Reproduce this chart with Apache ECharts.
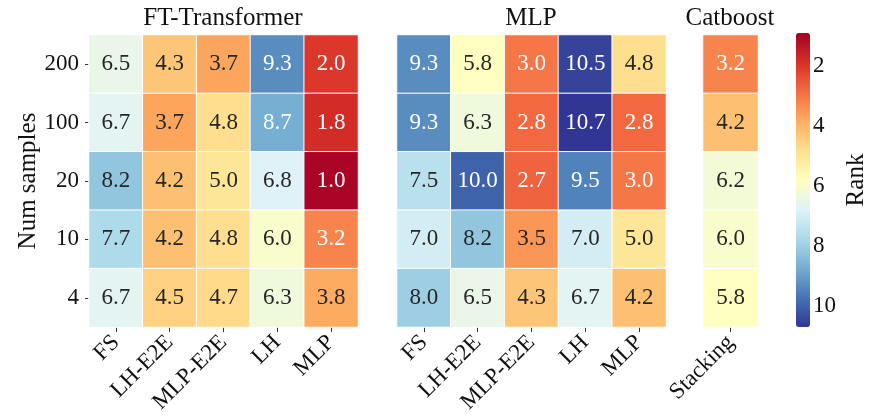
<!DOCTYPE html>
<html>
<head>
<meta charset="utf-8">
<script src="https://cdn.jsdelivr.net/npm/echarts@6/dist/echarts.min.js"></script>
<style>
  html, body { margin: 0; padding: 0; background: #fff; }
  #chart { width: 870px; height: 417px; }
</style>
</head>
<body>
<div id="chart"></div>
<script>
// rows, top to bottom
const sampleSizes = ['200', '100', '20', '10', '4'];
const methods = ['FS', 'LH-E2E', 'MLP-E2E', 'LH', 'MLP'];
const catboostMethods = ['Stacking'];

// mean rank per row (num samples) and column (method)
const ftTransformerRanks = [
    [6.5, 4.3, 3.7, 9.3, 2.0],
    [6.7, 3.7, 4.8, 8.7, 1.8],
    [8.2, 4.2, 5.0, 6.8, 1.0],
    [7.7, 4.2, 4.8, 6.0, 3.2],
    [6.7, 4.5, 4.7, 6.3, 3.8]
];
const mlpRanks = [
    [9.3, 5.8, 3.0, 10.5, 4.8],
    [9.3, 6.3, 2.8, 10.7, 2.8],
    [7.5, 10.0, 2.7, 9.5, 3.0],
    [7.0, 8.2, 3.5, 7.0, 5.0],
    [8.0, 6.5, 4.3, 6.7, 4.2]
];
const catboostRanks = [[3.2], [4.2], [6.2], [6.0], [5.8]];

const colorbarTicks = [2, 4, 6, 8, 10];
const rankMin = 0.9;
const rankMax = 10.7;

// RdYlBu
const rdylbu = ['#a50026', '#d73027', '#f46d43', '#fdae61', '#fee090', '#ffffbf',
    '#e0f3f8', '#abd9e9', '#74add1', '#4575b4', '#313695'];

const FONT = 'Liberation Serif';
const TXT = '#111';

function toCells(matrix) {
    let res = [];
    matrix.forEach(function(row, yi) {
        row.forEach(function(v, xi) {
            // light text on the dark ends of the colormap
            let light = v <= 3.3 || v >= 8.5;
            res.push({
                value: [xi, yi, v],
                label: { color: light ? '#fff' : '#262626' }
            });
        });
    });
    return res;
}

let myChart = echarts.init(document.getElementById('chart'));

const gridTop = 35, gridH = 292;
const grids = [
    { left: 89, top: gridTop, width: 269, height: gridH },
    { left: 397, top: gridTop, width: 269, height: gridH },
    { left: 703, top: gridTop, width: 55, height: gridH },
    { left: 796, top: 33, width: 14, height: 294 } // colorbar axis
];

function catX(idx, cats) {
    return {
        type: 'category', gridIndex: idx, data: cats, position: 'bottom',
        axisLine: { show: false },
        axisTick: { show: true, alignWithLabel: true, length: 5, lineStyle: { color: '#333' } },
        axisLabel: { rotate: 45, margin: 12, fontFamily: FONT, fontSize: 23, color: TXT, interval: 0 },
        splitLine: { show: false }
    };
}
function catY(idx, showLabels) {
    return {
        type: 'category', gridIndex: idx, data: sampleSizes, inverse: true,
        axisLine: { show: false },
        axisTick: { show: showLabels, alignWithLabel: true, length: 4, lineStyle: { color: '#333' } },
        axisLabel: { show: showLabels, margin: 10, fontFamily: FONT, fontSize: 23, color: TXT },
        name: showLabels ? 'Num samples' : '',
        nameLocation: 'middle', nameRotate: 90, nameGap: 47,
        nameTextStyle: { fontFamily: FONT, fontSize: 25, color: TXT }
    };
}

function heatSeries(idx, matrix) {
    return {
        type: 'heatmap', xAxisIndex: idx, yAxisIndex: idx,
        data: toCells(matrix),
        itemStyle: { borderColor: '#fff', borderWidth: 1 },
        label: {
            show: true, fontFamily: FONT, fontSize: 23,
            formatter: function(p) { return p.value[2].toFixed(1); }
        },
        emphasis: { disabled: true }
    };
}

let option = {
    backgroundColor: '#fff',
    animation: false,
    title: [
        { text: 'FT-Transformer', left: 223, top: 6, textAlign: 'center', padding: 0,
          textStyle: { fontFamily: FONT, fontSize: 25, fontWeight: 'normal', color: TXT } },
        { text: 'MLP', left: 531, top: 6, textAlign: 'center', padding: 0,
          textStyle: { fontFamily: FONT, fontSize: 25, fontWeight: 'normal', color: TXT } },
        { text: 'Catboost', left: 730, top: 6, textAlign: 'center', padding: 0,
          textStyle: { fontFamily: FONT, fontSize: 25, fontWeight: 'normal', color: TXT } }
    ],
    grid: grids,
    xAxis: [
        catX(0, methods),
        catX(1, methods),
        catX(2, catboostMethods),
        { type: 'value', gridIndex: 3, show: false, min: 0, max: 1 }
    ],
    yAxis: [
        catY(0, true),
        catY(1, false),
        catY(2, false),
        {
            type: 'value', gridIndex: 3, position: 'right', inverse: true,
            min: rankMin, max: rankMax,
            axisLine: { show: false },
            splitLine: { show: false },
            axisTick: { show: true, length: 4, customValues: colorbarTicks, lineStyle: { color: '#333' } },
            axisLabel: { margin: 9, customValues: colorbarTicks, fontFamily: FONT, fontSize: 23, color: TXT },
            name: 'Rank', nameLocation: 'middle', nameRotate: 90, nameGap: 40,
            nameTextStyle: { fontFamily: FONT, fontSize: 25, color: TXT }
        }
    ],
    visualMap: {
        type: 'continuous',
        min: rankMin, max: rankMax,
        seriesIndex: [0, 1, 2],
        inverse: true,
        calculable: false,
        hoverLink: false,
        left: 796, top: 33,
        itemWidth: 14, itemHeight: 294,
        padding: 0,
        text: null,
        showLabel: false,
        inRange: { color: rdylbu }
    },
    series: [
        heatSeries(0, ftTransformerRanks),
        heatSeries(1, mlpRanks),
        heatSeries(2, catboostRanks)
    ]
};

myChart.setOption(option);
</script>
</body>
</html>
